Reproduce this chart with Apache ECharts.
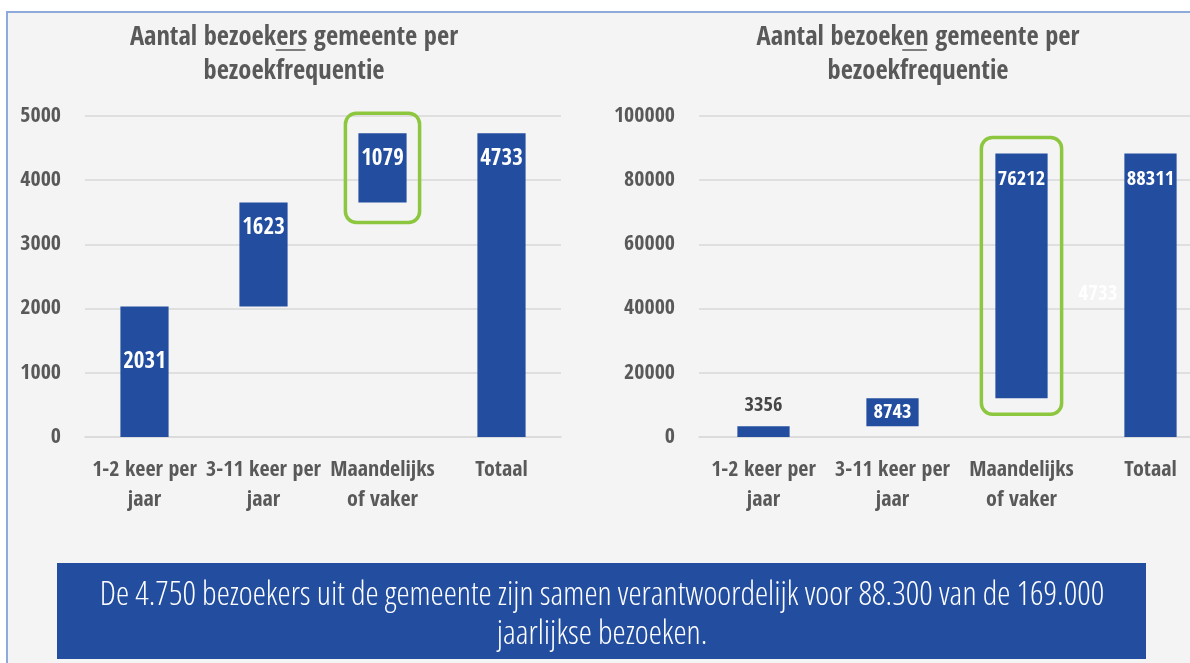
<!DOCTYPE html>
<html>
<head>
<meta charset="utf-8">
<script src="https://cdn.jsdelivr.net/npm/echarts@6/dist/echarts.min.js"></script>
<style>
  html, body { margin: 0; padding: 0; background: #fff; overflow: hidden; }
  #frame { position: absolute; left: 6px; top: 11px; width: 1200px; height: 670px; background: #f4f4f4; border: 2px solid #8eaadb; }
  #main { position: absolute; left: 0; top: 0; width: 1190px; height: 663px; }
</style>
</head>
<body>
<div id="frame"></div>
<div id="main"></div>
<script>
// data
var categories = ['1-2 keer per\njaar', '3-11 keer per\njaar', 'Maandelijks\nof vaker', 'Totaal'];
var visitorValues = [2031, 1623, 1079, 4733];   // bezoekers
var visitValues = [3356, 8743, 76212, 88311];   // bezoeken
var leftTicks = [0, 1000, 2000, 3000, 4000, 5000];
var rightTicks = [0, 20000, 40000, 60000, 80000, 100000];
var highlightIndex = 2;
var titleLeft = ['Aantal bezoek', 'ers', ' gemeente per', 'bezoekfrequentie'];
var titleRight = ['Aantal bezoek', 'en', ' gemeente per', 'bezoekfrequentie'];
var bannerLines = ['De 4.750 bezoekers uit de gemeente zijn samen verantwoordelijk voor 88.300 van de 169.000', 'jaarlijkse bezoeken.'];
var strayLabel = '4733';

var FONT = "'Open Sans Condensed', 'Liberation Sans Narrow', sans-serif";
var BLUE = '#234ea0';
var GREY = '#595959';
var GRID = '#d9d9d9';

// waterfall offsets: each step starts where the previous ended, total starts at 0
function offsets(vals) {
  var out = [], run = 0;
  for (var i = 0; i < vals.length; i++) {
    if (i === vals.length - 1) { out.push(0); }
    else { out.push(run); run += vals[i]; }
  }
  return out;
}
var leftBase = offsets(visitorValues);
var rightBase = offsets(visitValues);

var leftLabelPos = ['inside', 'insideTop', 'insideTop', 'insideTop'];
var rightLabelPos = ['top', 'inside', 'insideTop', 'insideTop'];

function barData(vals, pos, right) {
  return vals.map(function (v, i) {
    var lbl = { position: pos[i] };
    if (pos[i] === 'insideTop') lbl.distance = right ? 16 : 14;
    if (pos[i] === 'inside' && i === 0 && !right) lbl.offset = [0, -10];
    if (pos[i] === 'top') { lbl.color = '#474747'; lbl.fontWeight = 600; lbl.distance = 10; }
    return { value: v, label: lbl };
  });
}

function boxRender(padX, padY) {
  return function (params, api) {
    var idx = api.value(0);
    var p0 = api.coord([idx, api.value(1)]);
    var p1 = api.coord([idx, api.value(2)]);
    var bw = api.size([1, 0])[0] * 0.405;
    return {
      type: 'rect',
      shape: { x: p0[0] - bw / 2 - padX, y: p1[1] - padY, width: bw + 2 * padX, height: p0[1] - p1[1] + 2 * padY, r: 11 },
      style: { fill: 'none', stroke: '#8dc63f', lineWidth: 3.5 }
    };
  };
}

function xAxisCfg(grid) {
  return {
    type: 'category', gridIndex: grid, data: categories,
    axisTick: { show: false },
    axisLine: { lineStyle: { color: GRID, width: 1.5 } },
    axisLabel: { interval: 0, margin: 18, color: GREY, fontFamily: FONT, fontWeight: 'bold', fontSize: 22, lineHeight: 30 }
  };
}
function yAxisCfg(grid, ticks, margin) {
  return {
    type: 'value', gridIndex: grid, min: ticks[0], max: ticks[ticks.length - 1], interval: ticks[1] - ticks[0],
    axisLine: { show: false }, axisTick: { show: false },
    splitLine: { lineStyle: { color: GRID, width: 1.5 } },
    axisLabel: { margin: margin, color: GREY, fontFamily: FONT, fontWeight: 'bold', fontSize: 22, formatter: function (v) { return String(v); } }
  };
}

// measure text for the underlined parts of the titles
var ctx = document.createElement('canvas').getContext('2d');
var titleFont = 'bold 26.5px ' + FONT;
ctx.font = titleFont;
function titleGraphics(parts, cx) {
  var line1 = parts[0] + parts[1] + parts[2];
  var w = ctx.measureText(line1).width;
  var x0 = cx - w / 2 + ctx.measureText(parts[0]).width;
  var w2 = ctx.measureText(parts[1]).width;
  return [
    { type: 'text', x: cx, y: 21, style: { text: line1 + '\n' + parts[3], font: titleFont, fill: GREY, align: 'center', verticalAlign: 'top', lineHeight: 34 } },
    { type: 'line', shape: { x1: x0, y1: 50, x2: x0 + w2, y2: 50 }, style: { stroke: GREY, lineWidth: 1.5 } }
  ];
}

// banner font: light condensed, sized so the first line fills the banner like the original
var bannerFamily = "'Open Sans', sans-serif";
ctx.font = '300 condensed 30px ' + bannerFamily;
var bannerSize = 30 * 1005 / ctx.measureText(bannerLines[0]).width;
var bannerFont = '300 condensed ' + bannerSize.toFixed(1) + 'px ' + bannerFamily;

var chart = echarts.init(document.getElementById('main'));
var option = {
  backgroundColor: 'transparent',
  animation: false,
  grid: [
    { left: 85, width: 476, top: 116, bottom: 226, outerBoundsMode: 'none' },
    { left: 699, width: 516, top: 116, bottom: 226, outerBoundsMode: 'none' }
  ],
  xAxis: [xAxisCfg(0), xAxisCfg(1)],
  yAxis: [yAxisCfg(0, leftTicks, 24), yAxisCfg(1, rightTicks, 24)],
  series: [
    { type: 'bar', xAxisIndex: 0, yAxisIndex: 0, stack: 'a', data: leftBase, itemStyle: { color: 'transparent' }, silent: true },
    {
      type: 'bar', xAxisIndex: 0, yAxisIndex: 0, stack: 'a', barWidth: '40.5%',
      data: barData(visitorValues, leftLabelPos, false),
      itemStyle: { color: BLUE },
      label: { show: true, color: '#fff', fontFamily: FONT, fontWeight: 'bold', fontSize: 23 }
    },
    { type: 'bar', xAxisIndex: 1, yAxisIndex: 1, stack: 'b', data: rightBase, itemStyle: { color: 'transparent' }, silent: true },
    {
      type: 'bar', xAxisIndex: 1, yAxisIndex: 1, stack: 'b', barWidth: '40.5%',
      data: barData(visitValues, rightLabelPos, true),
      itemStyle: { color: BLUE },
      label: { show: true, color: '#fff', fontFamily: FONT, fontWeight: 'bold', fontSize: 20.5 }
    },
    {
      type: 'custom', xAxisIndex: 0, yAxisIndex: 0, z: 5,
      renderItem: boxRender(13, 20),
      data: [[highlightIndex, leftBase[highlightIndex], leftBase[highlightIndex] + visitorValues[highlightIndex]]]
    },
    {
      type: 'custom', xAxisIndex: 1, yAxisIndex: 1, z: 5,
      renderItem: boxRender(14, 16),
      data: [[highlightIndex, rightBase[highlightIndex], rightBase[highlightIndex] + visitValues[highlightIndex]]]
    }
  ],
  graphic: [].concat(
    titleGraphics(titleLeft, 294),
    titleGraphics(titleRight, 918),
    [
      { type: 'text', x: 1098, y: 295, style: { text: strayLabel, font: 'bold 21px ' + FONT, fill: 'rgba(255,255,255,0.92)', align: 'center', verticalAlign: 'middle' } },
      { type: 'rect', shape: { x: 57, y: 563, width: 1089, height: 96 }, style: { fill: BLUE } },
      { type: 'text', x: 602, y: 615, style: { text: bannerLines.join('\n'), font: bannerFont, fill: '#fff', align: 'center', verticalAlign: 'middle', lineHeight: 39 } }
    ]
  )
};
chart.setOption(option);
</script>
</body>
</html>
